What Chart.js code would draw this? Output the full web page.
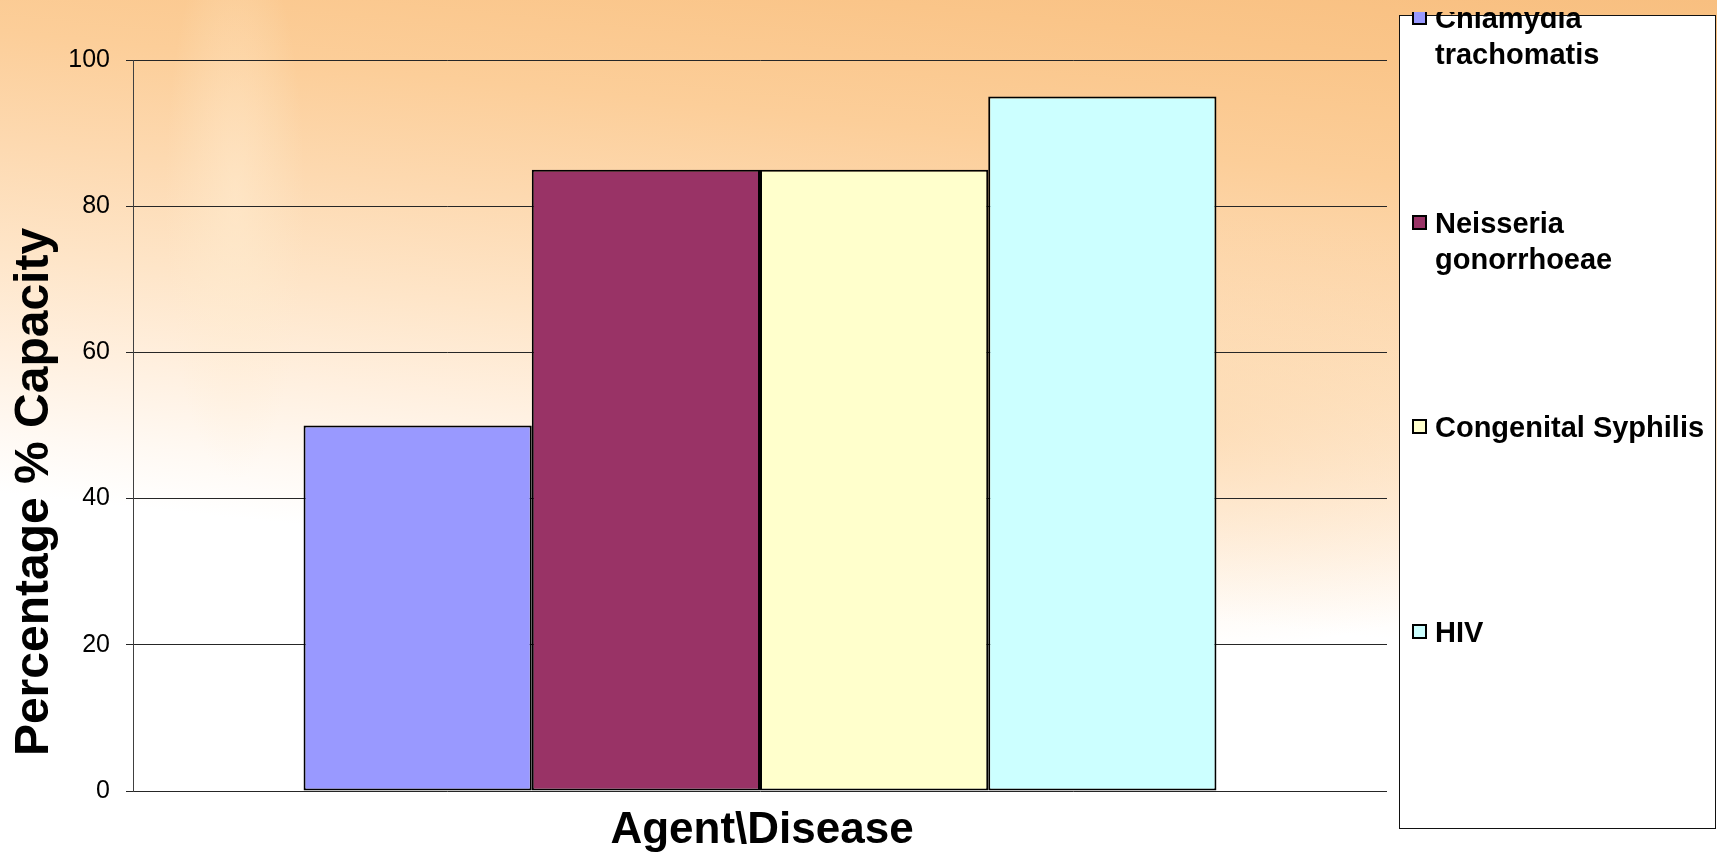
<!DOCTYPE html>
<html>
<head>
<meta charset="utf-8">
<script src="https://cdn.jsdelivr.net/npm/chart.js@4.4.1/dist/chart.umd.min.js"></script>
<style>
  html, body { margin: 0; padding: 0; }
  body { width: 1717px; height: 853px; overflow: hidden; position: relative; font-family: "Liberation Sans", Arial, sans-serif; }
  #bg {
    position: absolute; left: 0; top: 0; width: 1717px; height: 853px;
    background:
      radial-gradient(ellipse 70px 280px at 235px 200px, rgba(255,236,208,0.55), rgba(255,236,208,0) 100%),
      radial-gradient(ellipse 460px 220px at 1180px 430px, rgba(252,208,155,0.5), rgba(252,208,155,0) 100%),
      linear-gradient(186deg, #F8BF80 0px, #FAC589 90px, #FCCE99 210px, #FDD9B0 320px, #FEE5C8 430px, #FFF0E0 530px, #FFF9F3 610px, #FFFFFF 670px, #FFFFFF 853px);
  }
  #wrap { position: absolute; left: 0; top: 0; width: 1717px; height: 853px; }
  .title { position: absolute; font-weight: bold; color: #000; white-space: nowrap; }
  #xtitle { left: 562px; width: 400px; top: 806px; height: 44px; line-height: 44px; font-size: 44px; text-align: center; }
  #ytitle { left: -268px; top: 468px; width: 600px; height: 48px; line-height: 48px; font-size: 48px; text-align: center; transform: rotate(-90deg); }
  #legclip { position: absolute; left: 1390px; top: 12px; width: 327px; height: 830px; overflow: hidden; }
  #legbox { position: absolute; left: 9px; top: 3px; width: 315px; height: 812px; border: 1px solid #111; background: #fff; }
  .item { position: absolute; left: 12px; width: 300px; font-size: 29px; line-height: 36px; font-weight: bold; color: #000; }
  .sw { position: absolute; left: 0; top: 10px; width: 11px; height: 11px; border: 2px solid #000; }
  .lt { position: absolute; left: 23px; width: 276px; }
</style>
</head>
<body>
<div id="bg"></div>
<div id="wrap"><canvas id="c" width="1717" height="853"></canvas></div>
<div id="ytitle" class="title"></div>
<div id="xtitle" class="title"></div>
<div id="legclip"><div id="legbox"></div></div>
<script>
// ---- data ----
const categories = [""];
const seriesNames = ["Chlamydia trachomatis", "Neisseria gonorrhoeae", "Congenital Syphilis", "HIV"];
const chlamydia = [50];
const neisseria = [85];
const syphilis = [85];
const hiv = [95];
const seriesColors = ["#9999FF", "#993366", "#FFFFCC", "#CCFFFF"];
const yTicks = [0, 20, 40, 60, 80, 100];
const xAxisTitle = "Agent\\Disease";
const yAxisTitle = "Percentage % Capacity";

const seriesValues = [chlamydia, neisseria, syphilis, hiv];
const datasets = seriesNames.map((name, i) => ({
  label: name,
  data: seriesValues[i],
  backgroundColor: seriesColors[i],
  borderColor: "#000000",
  borderWidth: 2,
  borderSkipped: false,
  barPercentage: 1.0,
  categoryPercentage: 0.728
}));

const chart = new Chart(document.getElementById("c"), {
  type: "bar",
  data: { labels: categories, datasets: datasets },
  options: {
    responsive: false,
    animation: false,
    devicePixelRatio: 1,
    layout: { padding: { top: 60, right: 330, bottom: 62, left: 0 } },
    plugins: { legend: { display: false }, tooltip: { enabled: false }, title: { display: false } },
    scales: {
      x: { type: "category", display: false },
      y: {
        min: yTicks[0],
        max: yTicks[yTicks.length - 1],
        afterFit: (s) => { s.width = 133; },
        afterBuildTicks: (s) => { s.ticks = yTicks.map(v => ({ value: v })); },
        ticks: {
          stepSize: 20,
          padding: 16,
          color: "#000000",
          font: { family: "'Liberation Sans', Arial, sans-serif", size: 25 }
        },
        grid: { color: "#262626", lineWidth: 1, tickLength: 7, drawTicks: true },
        border: { display: true, color: "#404040", width: 1 }
      }
    }
  }
});

document.getElementById("xtitle").textContent = xAxisTitle;
document.getElementById("ytitle").textContent = yAxisTitle;

// legend built from the chart datasets
const legbox = document.getElementById("legbox");
const itemCentres = [18, 222.5, 427, 631.5];
chart.data.datasets.forEach((ds, i) => {
  const it = document.createElement("div");
  it.className = "item";
  it.style.top = (itemCentres[i] - 16 - 18) + "px";
  const sw = document.createElement("div");
  sw.className = "sw";
  sw.style.background = ds.backgroundColor;
  const lt = document.createElement("div");
  lt.className = "lt";
  lt.textContent = ds.label;
  it.appendChild(sw);
  it.appendChild(lt);
  legbox.appendChild(it);
});
</script>
</body>
</html>
